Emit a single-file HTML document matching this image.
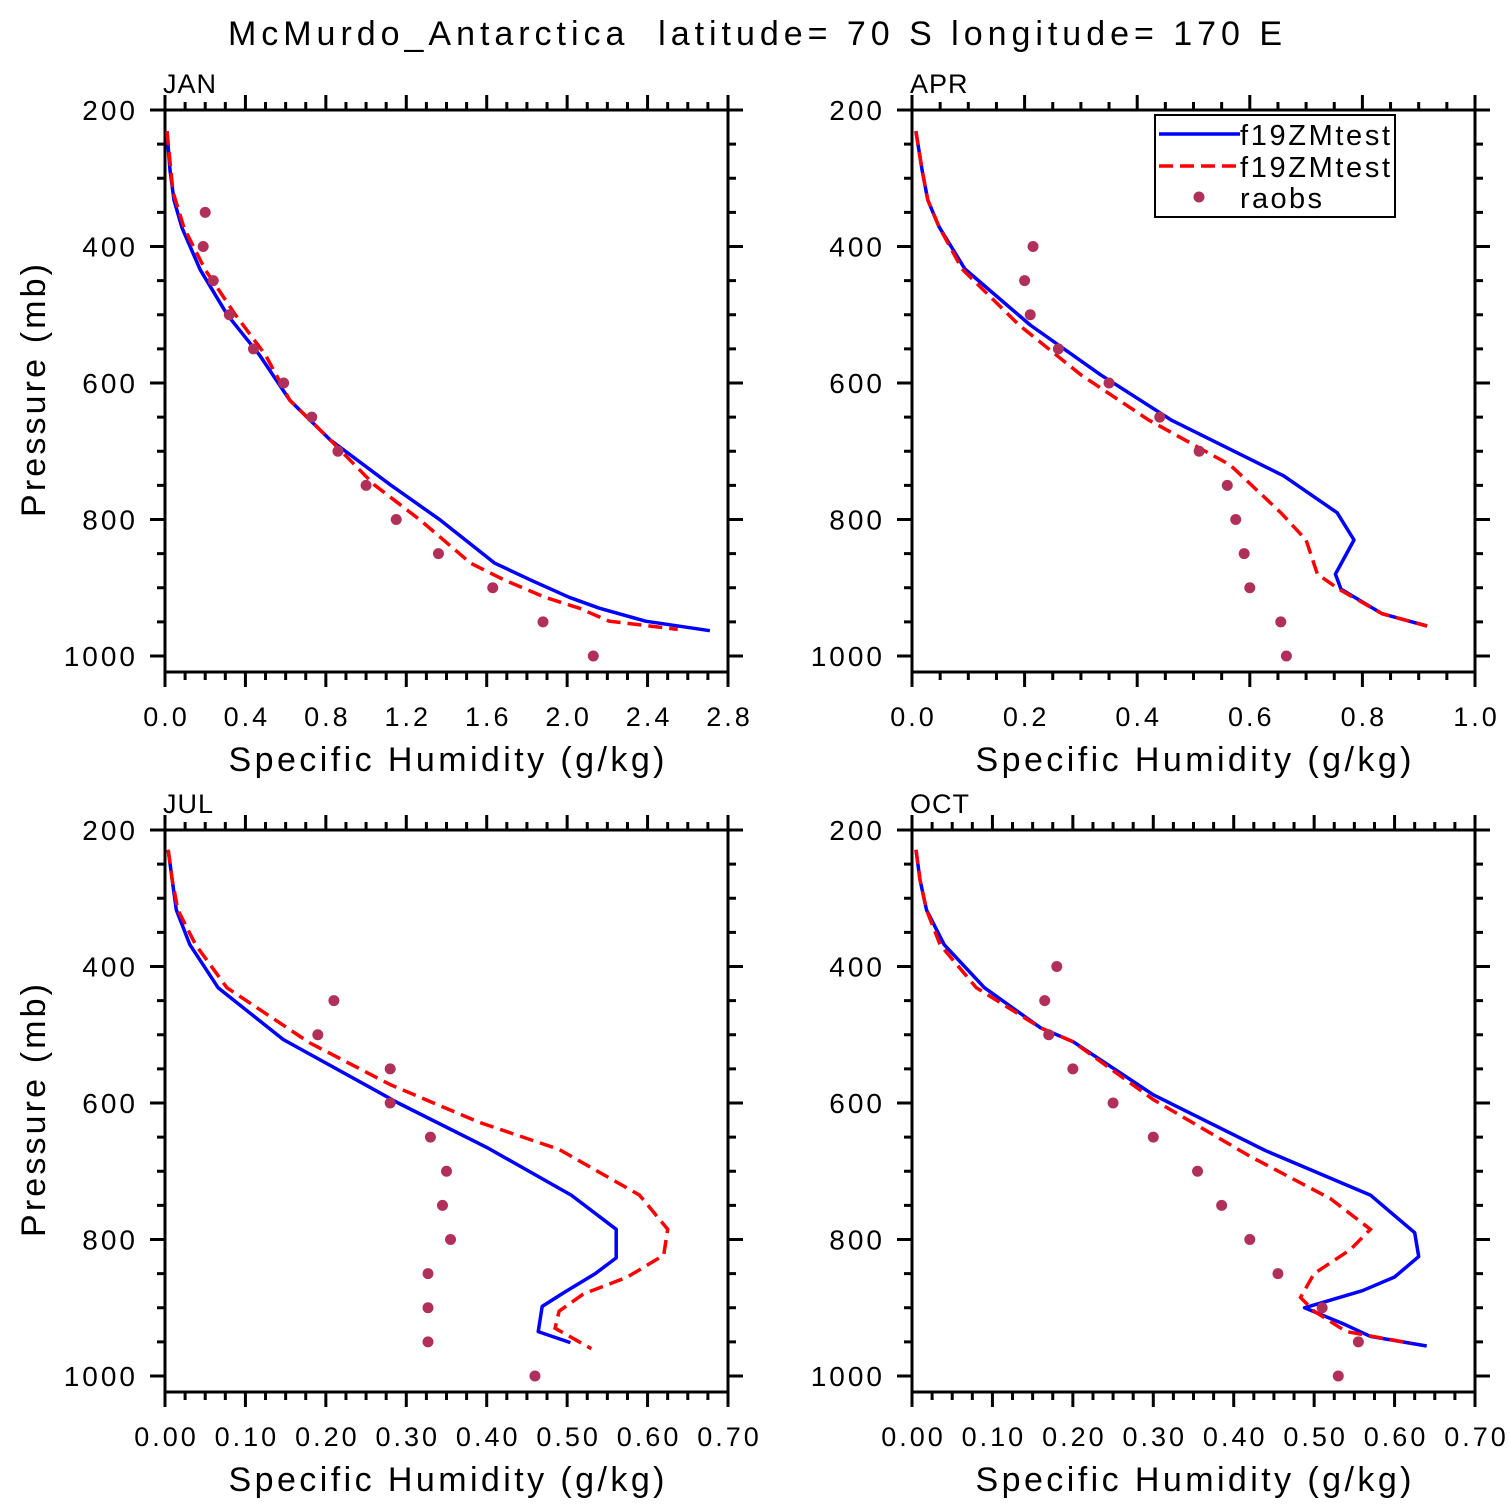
<!DOCTYPE html>
<html><head><meta charset="utf-8"><style>
html,body{margin:0;padding:0;background:#fff}
svg{display:block;font-family:"Liberation Sans",sans-serif}
</style></head><body>
<svg id="chart" width="1510" height="1510" viewBox="0 0 1510 1510" xmlns="http://www.w3.org/2000/svg">
<rect width="1510" height="1510" fill="#fff"/>
<text x="228" y="45" textLength="1054" lengthAdjust="spacing" font-size="34" fill="#000" style="white-space:pre" xml:space="preserve">McMurdo_Antarctica  latitude= 70 S longitude= 170 E</text>
</svg>
<script>
// ---- data ----
const janBlueQ=[0.01,0.025,0.045,0.085,0.175,0.31,0.47,0.62,0.82,1.12,1.37,1.64,1.82,2.01,2.16,2.39,2.71];
const janBlueP=[231,288,332,373,434,500,559,625,683,749,801,864,889,914,930,949,963];
const janRedQ=[0.01,0.04,0.095,0.2,0.35,0.5,0.62,0.82,1.04,1.27,1.52,1.69,1.89,2.06,2.21,2.55];
const janRedP=[231,320,373,434,500,559,625,683,749,801,864,889,914,930,949,961];
const janObsQ=[0.2,0.19,0.24,0.32,0.44,0.59,0.73,0.86,1.0,1.15,1.36,1.63,1.88,2.13];
const janObsP=[350,400,450,500,550,600,650,700,750,800,850,900,950,1000];

const aprBlueQ=[0.007,0.018,0.028,0.048,0.094,0.21,0.335,0.46,0.66,0.755,0.785,0.752,0.762,0.835,0.915];
const aprBlueP=[231,288,332,371,433,515,588,654,736,790,830,880,902,938,956];
const aprRedQ=[0.007,0.018,0.028,0.048,0.089,0.19,0.3,0.42,0.565,0.655,0.7,0.72,0.758,0.835,0.915];
const aprRedP=[231,288,332,371,433,515,588,654,720,790,830,880,902,938,956];
const aprObsQ=[0.215,0.2,0.21,0.26,0.35,0.44,0.51,0.56,0.575,0.59,0.6,0.655,0.665];
const aprObsP=[400,450,500,550,600,650,700,750,800,850,900,950,1000];

const julBlueQ=[0.004,0.009,0.014,0.031,0.066,0.147,0.29,0.40,0.505,0.561,0.561,0.535,0.497,0.469,0.464,0.504];
const julBlueP=[229,273,317,368,431,507,600,665,735,785,827,850,877,898,935,951];
const julRedQ=[0.004,0.009,0.016,0.038,0.077,0.18,0.28,0.39,0.49,0.59,0.625,0.62,0.575,0.52,0.49,0.485,0.53];
const julRedP=[229,273,317,368,431,512,573,628,668,735,785,823,855,880,905,930,960];
const julObsQ=[0.21,0.19,0.28,0.28,0.33,0.35,0.345,0.355,0.327,0.327,0.327,0.46];
const julObsP=[450,500,550,600,650,700,750,800,850,900,950,1000];

const octBlueQ=[0.005,0.01,0.018,0.04,0.09,0.16,0.2,0.3,0.44,0.57,0.625,0.63,0.6,0.56,0.488,0.539,0.57,0.64];
const octBlueP=[229,273,317,368,431,490,510,588,670,735,790,825,855,875,900,925,942,956];
const octRedQ=[0.005,0.01,0.018,0.035,0.08,0.16,0.2,0.3,0.42,0.52,0.57,0.545,0.5,0.483,0.5,0.54,0.62];
const octRedP=[229,273,317,368,431,490,510,595,678,740,785,815,850,885,905,935,952];
const octObsQ=[0.18,0.165,0.17,0.2,0.25,0.3,0.355,0.385,0.42,0.455,0.51,0.555,0.53];
const octObsP=[400,450,500,550,600,650,700,750,800,850,900,950,1000];

const yTickLabels=[200,400,600,800,1000];
const janXTicks=["0.0","0.4","0.8","1.2","1.6","2.0","2.4","2.8"];
const aprXTicks=["0.0","0.2","0.4","0.6","0.8","1.0"];
const julXTicks=["0.00","0.10","0.20","0.30","0.40","0.50","0.60","0.70"];

const NS="http://www.w3.org/2000/svg";
const svg=document.getElementById('chart');
function mk(tag,attrs,parent){const e=document.createElementNS(NS,tag);for(const k in attrs)e.setAttribute(k,attrs[k]);(parent||svg).appendChild(e);return e;}

function panel(o){
  const g=mk('g',{});
  
  
  const x0=o.x0,x1=o.x0+563,y0=o.y0,y1=o.y0+562;
  const pMin=200,pMax=200+562/0.6825;
  const X=v=>x0+(v-0)/o.xmax*(x1-x0);
  const Y=p=>y0+(p-pMin)/(pMax-pMin)*(y1-y0);
  let t='';
  for(let p=200;p<=1000.01;p+=50){const maj=(p%200===0);const L=maj?15:8;const y=Y(p);
    t+=`M${x0},${y}h${-L}M${x1},${y}h${L}`;}
  const nMinor=Math.round(o.xmax/o.minor);
  for(let i=0;i<=nMinor;i++){const v=i*o.minor;const x=X(v);const maj=(i%o.per===0);const L=maj?15:8;
    t+=`M${x},${y0}v${-L}M${x},${y1}v${L}`;}
  const ticks=mk('path',{d:t,stroke:'#000','stroke-width':3,fill:'none'},g);
  
  
  const frame=mk('rect',{x:x0,y:y0,width:x1-x0,height:y1-y0,fill:'none',stroke:'#000','stroke-width':3},g);
  
  
  yTickLabels.forEach(p=>{const tx=mk('text',{x:x0-27,y:Y(p)+10,'text-anchor':'end','font-size':28,'letter-spacing':'3'},g);tx.textContent=p;
    
    });
  o.xlabels.forEach((s,i)=>{const tx=mk('text',{x:X(i*o.minor*o.per)+1.5,y:y1+54,'text-anchor':'middle','font-size':27,'letter-spacing':'3'},g);tx.textContent=s;
    
    });
  const xt=mk('text',{x:(x0+x1)/2-218,y:y1+99,'font-size':34,textLength:436,lengthAdjust:'spacing'},g);xt.textContent='Specific Humidity (g/kg)';
  
  
  if(o.ytitle){const yt=mk('text',{x:-126,y:0,'font-size':34,textLength:253,lengthAdjust:'spacing',transform:`translate(45,${(y0+y1)/2}) rotate(-90)`},g);yt.textContent='Pressure (mb)';
    
    }
  const lab=mk('text',{x:x0-2,y:y0-17,'font-size':27,'letter-spacing':'1'},g);lab.textContent=o.label;
  
  
  const pts=(q,p)=>q.map((v,i)=>X(v).toFixed(1)+','+Y(p[i]).toFixed(1)).join(' ');
  const bl=mk('polyline',{points:pts(o.bq,o.bp),fill:'none',stroke:'#0000ff','stroke-width':3.5,'stroke-linejoin':'round'},g);
  
  
  const rl=mk('polyline',{points:pts(o.rq,o.rp),fill:'none',stroke:'#ff0000','stroke-width':3.5,'stroke-dasharray':'14,7'},g);
  
  
  o.oq.forEach((v,i)=>{const c=mk('circle',{cx:X(v),cy:Y(o.op[i]),r:5.5,fill:'#b0305a'},g);
    
    });
}
panel({name:'jan',label:'JAN',x0:165,y0:110,xmax:2.8,minor:0.1,per:4,xlabels:janXTicks,ytitle:true,bq:janBlueQ,bp:janBlueP,rq:janRedQ,rp:janRedP,oq:janObsQ,op:janObsP});
panel({name:'apr',label:'APR',x0:912,y0:110,xmax:1.0,minor:0.05,per:4,xlabels:aprXTicks,ytitle:false,bq:aprBlueQ,bp:aprBlueP,rq:aprRedQ,rp:aprRedP,oq:aprObsQ,op:aprObsP});
panel({name:'jul',label:'JUL',x0:165,y0:830,xmax:0.7,minor:0.025,per:4,xlabels:julXTicks,ytitle:true,bq:julBlueQ,bp:julBlueP,rq:julRedQ,rp:julRedP,oq:julObsQ,op:julObsP});
panel({name:'oct',label:'OCT',x0:912,y0:830,xmax:0.7,minor:0.025,per:4,xlabels:julXTicks,ytitle:false,bq:octBlueQ,bp:octBlueP,rq:octRedQ,rp:octRedP,oq:octObsQ,op:octObsP});

const lg=mk('g',{});


mk('rect',{x:1155,y:115,width:240,height:102,fill:'#fff',stroke:'#000','stroke-width':2},lg);
mk('line',{x1:1159,y1:134,x2:1240,y2:134,stroke:'#0000ff','stroke-width':3.5},lg);
mk('line',{x1:1159,y1:166,x2:1240,y2:166,stroke:'#ff0000','stroke-width':3.5,'stroke-dasharray':'14,7'},lg);
mk('circle',{cx:1199,cy:197,r:5.5,fill:'#b0305a'},lg);
[['f19ZMtest',145,150],['f19ZMtest',177,150],['raobs',208,82]].forEach(([s,y,w])=>{const t=mk('text',{x:1240,y:y,'font-size':29,textLength:w,lengthAdjust:'spacing'},lg);t.textContent=s;
  
  });
</script>
</body></html>
